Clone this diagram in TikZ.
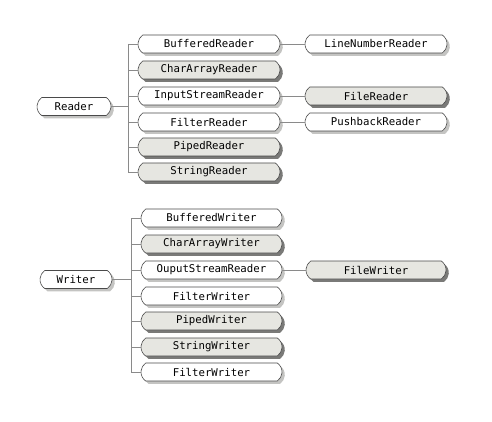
\documentclass[tikz,border=0pt]{standalone}
\usepackage{fontspec}
\newfontfamily\boxfont{DejaVu Sans Mono}
\usetikzlibrary{shapes.misc,shadows}
\definecolor{gfill}{HTML}{E6E6E1}
\definecolor{gshadow}{HTML}{7A7A78}
\definecolor{wshadow}{HTML}{C4C4C2}
\definecolor{linecol}{HTML}{8A8A8A}
\definecolor{bordercol}{HTML}{4A4A4A}
\tikzset{
  basebox/.style={rounded rectangle, rounded rectangle arc length=110,
    draw=bordercol, line width=0.6pt, minimum height=18pt, inner sep=0pt,
    font=\boxfont\fontsize{10.7pt}{12pt}\selectfont, text=black},
  wbox/.style={basebox, fill=white,
    drop shadow={shadow xshift=2.8pt, shadow yshift=-2.8pt, fill=wshadow, opacity=1}},
  gbox/.style={basebox, fill=gfill,
    drop shadow={shadow xshift=2.8pt, shadow yshift=-2.8pt, fill=gshadow, opacity=1}},
  conn/.style={draw=linecol, line width=0.6pt}
}
\begin{document}
\begin{tikzpicture}[x=1pt,y=1pt]
\useasboundingbox (0,0) rectangle (492,-422);
% Reader group
\node[wbox, minimum width=74pt] (reader) at (74,-106.5) {Reader};
\node[wbox, minimum width=142pt] (r1) at (209,-44) {BufferedReader};
\node[gbox, minimum width=142pt] (r2) at (209,-70) {CharArrayReader};
\node[wbox, minimum width=142pt] (r3) at (209,-96) {InputStreamReader};
\node[wbox, minimum width=142pt] (r4) at (209,-122) {FilterReader};
\node[gbox, minimum width=142pt] (r5) at (209,-147) {PipedReader};
\node[gbox, minimum width=142pt] (r6) at (209,-172) {StringReader};
\node[wbox, minimum width=142pt] (r1a) at (376,-44) {LineNumberReader};
\node[gbox, minimum width=142pt] (r3a) at (376,-96) {FileReader};
\node[wbox, minimum width=142pt] (r4a) at (376,-122) {PushbackReader};
\coordinate (tR) at (128,0);
\draw[conn] (tR |- r1.west) -- (tR |- r6.west);
\draw[conn] (reader.east) -- (reader.east -| tR);
\foreach \n in {r1,r2,r3,r4,r5,r6} {\draw[conn] (\n.west -| tR) -- (\n.west);}
\draw[conn] (r1.east) -- (r1a.west);
\draw[conn] (r3.east) -- (r3a.west);
\draw[conn] (r4.east) -- (r4a.west);
% Writer group
\node[wbox, minimum width=72pt] (writer) at (76,-279.5) {Writer};
\node[wbox, minimum width=141pt] (w1) at (211.5,-218) {BufferedWriter};
\node[gbox, minimum width=141pt] (w2) at (211.5,-244) {CharArrayWriter};
\node[wbox, minimum width=141pt] (w3) at (211.5,-270) {OuputStreamReader};
\node[wbox, minimum width=141pt] (w4) at (211.5,-296) {FilterWriter};
\node[gbox, minimum width=141pt] (w5) at (211.5,-321) {PipedWriter};
\node[gbox, minimum width=141pt] (w6) at (211.5,-347) {StringWriter};
\node[wbox, minimum width=141pt] (w7) at (211.5,-372) {FilterWriter};
\node[gbox, minimum width=140pt] (w3a) at (376,-270) {FileWriter};
\coordinate (tW) at (131,0);
\draw[conn] (tW |- w1.west) -- (tW |- w7.west);
\draw[conn] (writer.east) -- (writer.east -| tW);
\foreach \n in {w1,w2,w3,w4,w5,w6,w7} {\draw[conn] (\n.west -| tW) -- (\n.west);}
\draw[conn] (w3.east) -- (w3a.west);
\end{tikzpicture}
\end{document}
